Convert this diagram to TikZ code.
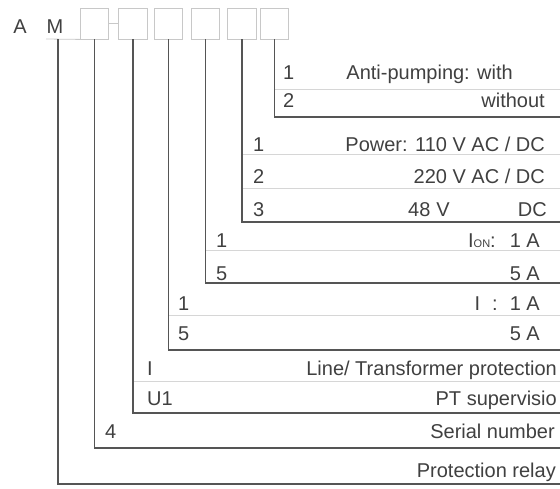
\documentclass[tikz,border=0pt]{standalone}
\usepackage{fontspec}
\setmainfont{Liberation Sans}
\definecolor{txgray}{RGB}{64,64,64}
\definecolor{lngray}{RGB}{85,85,85}
\definecolor{sepgray}{RGB}{214,214,214}
\definecolor{bxgray}{RGB}{200,200,200}
\usetikzlibrary{positioning}

\begin{document}
\begin{tikzpicture}[x=1pt, y=-1pt, every node/.style={font=\fontsize{20}{22}\selectfont, text=txgray, inner sep=0pt},
  bx/.style={draw=bxgray, line width=0.8pt, minimum width=28.5pt, minimum height=31pt},
  bxline/.style={draw=bxgray, line width=0.8pt},
  lead/.style={draw=lngray, line width=1.5pt},
  sep/.style={draw=sepgray, line width=0.8pt},
  num/.style={anchor=base west},
  val/.style={anchor=base east}]
\useasboundingbox (0,0) rectangle (560,488);
% Type code
\node[anchor=base] (a) at (20,33) {A};
\node[anchor=base] (m) at (55,33) {M};
\node[bx] (b1) at (94.5,23.5) {};
\node[bx] (b2) at (133,23.5) {};
\node[bx] (b3) at (168.5,23.5) {};
\node[bx] (b4) at (205.5,23.5) {};
\node[bx] (b5) at (242,23.5) {};
\node[bx] (b6) at (274.5,23.5) {};
\coordinate (mu) at (46,39);
\coordinate (m0) at (58,39);
\draw[bxline] (mu) -- (b1.south west);
\draw[bxline] (b1.east) -- (b2.west);
% Row ends
\coordinate (r0) at (560,484);
\coordinate (r1) at (560,448);
\coordinate (r2) at (560,413);
\coordinate (r3) at (560,350);
\coordinate (r4) at (560,283);
\coordinate (r5) at (560,222);
\coordinate (r6) at (560,117);
\coordinate (s2) at (560,381);
\coordinate (s3) at (560,315);
\coordinate (s4) at (560,250);
\coordinate (s5a) at (560,154);
\coordinate (s5b) at (560,188);
\coordinate (s6) at (560,89);
\draw[sep] (b2 |- s2) -- (s2);
\draw[sep] (b3 |- s3) -- (s3);
\draw[sep] (b4 |- s4) -- (s4);
\draw[sep] (b5 |- s5a) -- (s5a);
\draw[sep] (b5 |- s5b) -- (s5b);
\draw[sep] (b6 |- s6) -- (s6);
\draw[lead] (m0) |- (r0);
\draw[lead] (b1.south) |- (r1);
\draw[lead] (b2.south) |- (r2);
\draw[lead] (b3.south) |- (r3);
\draw[lead] (b4.south) |- (r4);
\draw[lead] (b5.south) |- (r5);
\draw[lead] (b6.south) |- (r6);
% Anti-pumping
\node[num] (n61) at (283,79) {1};
\node[val] (t61) at (513,79) {Anti-pumping: with};
\node[num] (n62) at (283,107) {2};
\node[val] (t62) at (545,107) {without};
% Power
\node[num] (n51) at (253,151) {1};
\node[val] (t51) at (545,151) {Power: 110 V AC / DC};
\node[num] (n52) at (253,183) {2};
\node[val] (t52) at (545,183) {220 V AC / DC};
\node[num] (n53) at (253,216) {3};
\node[num] (t53) at (408,216) {48\hspace{6pt}V};
\node[val] (u53) at (547,216) {DC};
% Ion
\node[num] (n41) at (216,247) {1};
\node[val] (t41) at (540,247) {I{\fontsize{11}{11}\selectfont ON}:\hspace{14pt}1 A};
\node[num] (n45) at (216,280) {5};
\node[val] (t45) at (540,280) {5 A};
% I
\node[num] (n31) at (178,310) {1};
\node[val] (t31) at (540,310) {I\hspace{12pt}:\hspace{12pt}1 A};
\node[num] (n35) at (178,340) {5};
\node[val] (t35) at (540,340) {5 A};
% Function
\node[num] (n21) at (147,375) {I};
\node[val] (t21) at (557,375) {Line/ Transformer protection};
\node[num] (n22) at (147,405) {U1};
\node[val] (t22) at (557,405) {PT supervisio};
% Serial
\node[num] (n11) at (105,438) {4};
\node[val] (t11) at (555,438) {Serial number};
\node[val] (t00) at (556,477) {Protection relay};
\end{tikzpicture}
\end{document}
